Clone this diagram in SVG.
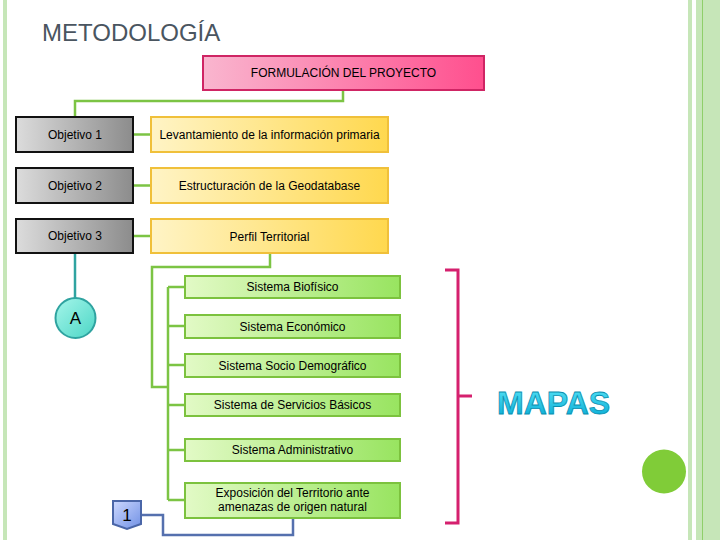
<svg xmlns="http://www.w3.org/2000/svg" width="720" height="540" viewBox="0 0 720 540">
<defs>
<linearGradient id="gPink" x1="0" y1="0" x2="1" y2="0"><stop offset="0" stop-color="#f9b6cf"/><stop offset="1" stop-color="#ff4f8e"/></linearGradient>
<linearGradient id="gGray" x1="0" y1="0" x2="1" y2="0"><stop offset="0" stop-color="#dcdcdc"/><stop offset="1" stop-color="#8c8c8c"/></linearGradient>
<linearGradient id="gYel" x1="0" y1="0" x2="1" y2="0"><stop offset="0" stop-color="#fff4c6"/><stop offset="1" stop-color="#ffd84e"/></linearGradient>
<linearGradient id="gGrn" x1="0" y1="0" x2="1" y2="0"><stop offset="0" stop-color="#e2fac6"/><stop offset="1" stop-color="#98e460"/></linearGradient>
<linearGradient id="gTeal" x1="0" y1="0" x2="1" y2="1"><stop offset="0" stop-color="#a6f6ea"/><stop offset="1" stop-color="#4cd6c6"/></linearGradient>
<linearGradient id="gBlue" x1="0" y1="0" x2="1" y2="1"><stop offset="0" stop-color="#ccd8ff"/><stop offset="1" stop-color="#7090e4"/></linearGradient>
<linearGradient id="gCyan" x1="0" y1="0" x2="0" y2="1"><stop offset="0" stop-color="#5ae6f8"/><stop offset="1" stop-color="#00a6d2"/></linearGradient>
<style>
.t{font-family:"Liberation Sans",Arial,sans-serif;font-size:12px;fill:#000;text-anchor:middle}
.obj{fill:url(#gGray);stroke:#111;stroke-width:2}
.yel{fill:url(#gYel);stroke:#f0c03a;stroke-width:2}
.grn{fill:url(#gGrn);stroke:#7cc23e;stroke-width:2}
.cg{fill:none;stroke:#7cc444;stroke-width:2.5}
</style>
</defs>
<rect width="720" height="540" fill="#fff"/>
<g id="frame">
<rect x="3" y="0" width="4" height="540" fill="#c6e6b8"/>
<rect x="688" y="0" width="4" height="540" fill="#c6e6b8"/>
<rect x="696" y="0" width="24" height="540" fill="#c6e6b8"/>
<line x1="702.5" y1="0" x2="702.5" y2="540" stroke="#8fcf6a" stroke-width="1"/>
</g>
<text x="42" y="41" font-family="'Liberation Sans',Arial,sans-serif" font-size="24" fill="#4a5560">METODOLOGÍA</text>
<g id="connectors">
<path class="cg" d="M343 90V101H75V117"/>
<path class="cg" d="M133 134.5H151M133 185.5H151M133 236H151"/>
<path class="cg" d="M270 253V267H152V387H168"/>
<path class="cg" d="M168 287V500M168 287H185M168 326H185M168 365H185M168 405H185M168 450H185M168 500H185"/>
<path d="M75 253V298" fill="none" stroke="#2fa3a0" stroke-width="2.5"/>
<path d="M141.7 515H163V535H293V518" fill="none" stroke="#5570ae" stroke-width="2.5"/>
</g>
<g id="formulacion">
<rect x="203" y="56" width="281" height="34" fill="url(#gPink)" stroke="#cf2564" stroke-width="2"/>
<text class="t" x="343.5" y="77">FORMULACIÓN DEL PROYECTO</text>
</g>
<g id="obj1"><rect class="obj" x="16" y="117" width="117" height="35"/><text class="t" x="75" y="139">Objetivo 1</text></g>
<g id="obj2"><rect class="obj" x="16" y="168" width="117" height="35"/><text class="t" x="75" y="190">Objetivo 2</text></g>
<g id="obj3"><rect class="obj" x="16" y="219" width="117" height="34"/><text class="t" x="75" y="240">Objetivo 3</text></g>
<g id="levantamiento"><rect class="yel" x="151" y="117" width="237" height="35"/><text class="t" x="269.5" y="139">Levantamiento de la información primaria</text></g>
<g id="estructuracion"><rect class="yel" x="151" y="168" width="237" height="35"/><text class="t" x="269.5" y="190">Estructuración de la Geodatabase</text></g>
<g id="perfil"><rect class="yel" x="151" y="219" width="237" height="34"/><text class="t" x="269.5" y="241">Perfil Territorial</text></g>
<g id="biofisico"><rect class="grn" x="185" y="276" width="215" height="22"/><text class="t" x="292.5" y="291">Sistema Biofísico</text></g>
<g id="economico"><rect class="grn" x="185" y="315" width="215" height="23"/><text class="t" x="292.5" y="331">Sistema Económico</text></g>
<g id="sociodemografico"><rect class="grn" x="185" y="354" width="215" height="23"/><text class="t" x="292.5" y="370">Sistema Socio Demográfico</text></g>
<g id="servicios"><rect class="grn" x="185" y="394" width="215" height="22"/><text class="t" x="292.5" y="409">Sistema de Servicios Básicos</text></g>
<g id="administrativo"><rect class="grn" x="185" y="439" width="215" height="22"/><text class="t" x="292.5" y="454">Sistema Administrativo</text></g>
<g id="exposicion"><rect class="grn" x="185" y="483" width="215" height="35"/><text class="t" x="292.5" y="497">Exposición del Territorio ante</text><text class="t" x="292.5" y="511">amenazas de origen natural</text></g>
<g id="circleA"><circle cx="75.5" cy="318" r="20" fill="url(#gTeal)" stroke="#2fa3a0" stroke-width="2"/><text x="75.5" y="324" font-family="'Liberation Sans',Arial,sans-serif" font-size="17" text-anchor="middle" fill="#000">A</text></g>
<g id="offpage1"><path d="M113 501H141V524L127 529L113 524Z" fill="url(#gBlue)" stroke="#4a66a8" stroke-width="2"/><text x="127" y="521" font-family="'Liberation Sans',Arial,sans-serif" font-size="17" text-anchor="middle" fill="#000">1</text></g>
<g id="bracket"><path d="M445 270H458V523H445M458 396H472" fill="none" stroke="#d5206e" stroke-width="3"/></g>
<text id="mapas" x="497" y="414" font-family="'Liberation Sans',Arial,sans-serif" font-size="32" font-weight="bold" fill="url(#gCyan)" stroke="#0a8fb0" stroke-width="0.8">MAPAS</text>
<circle id="dot" cx="664" cy="471.5" r="22" fill="#80cc38"/>
</svg>
